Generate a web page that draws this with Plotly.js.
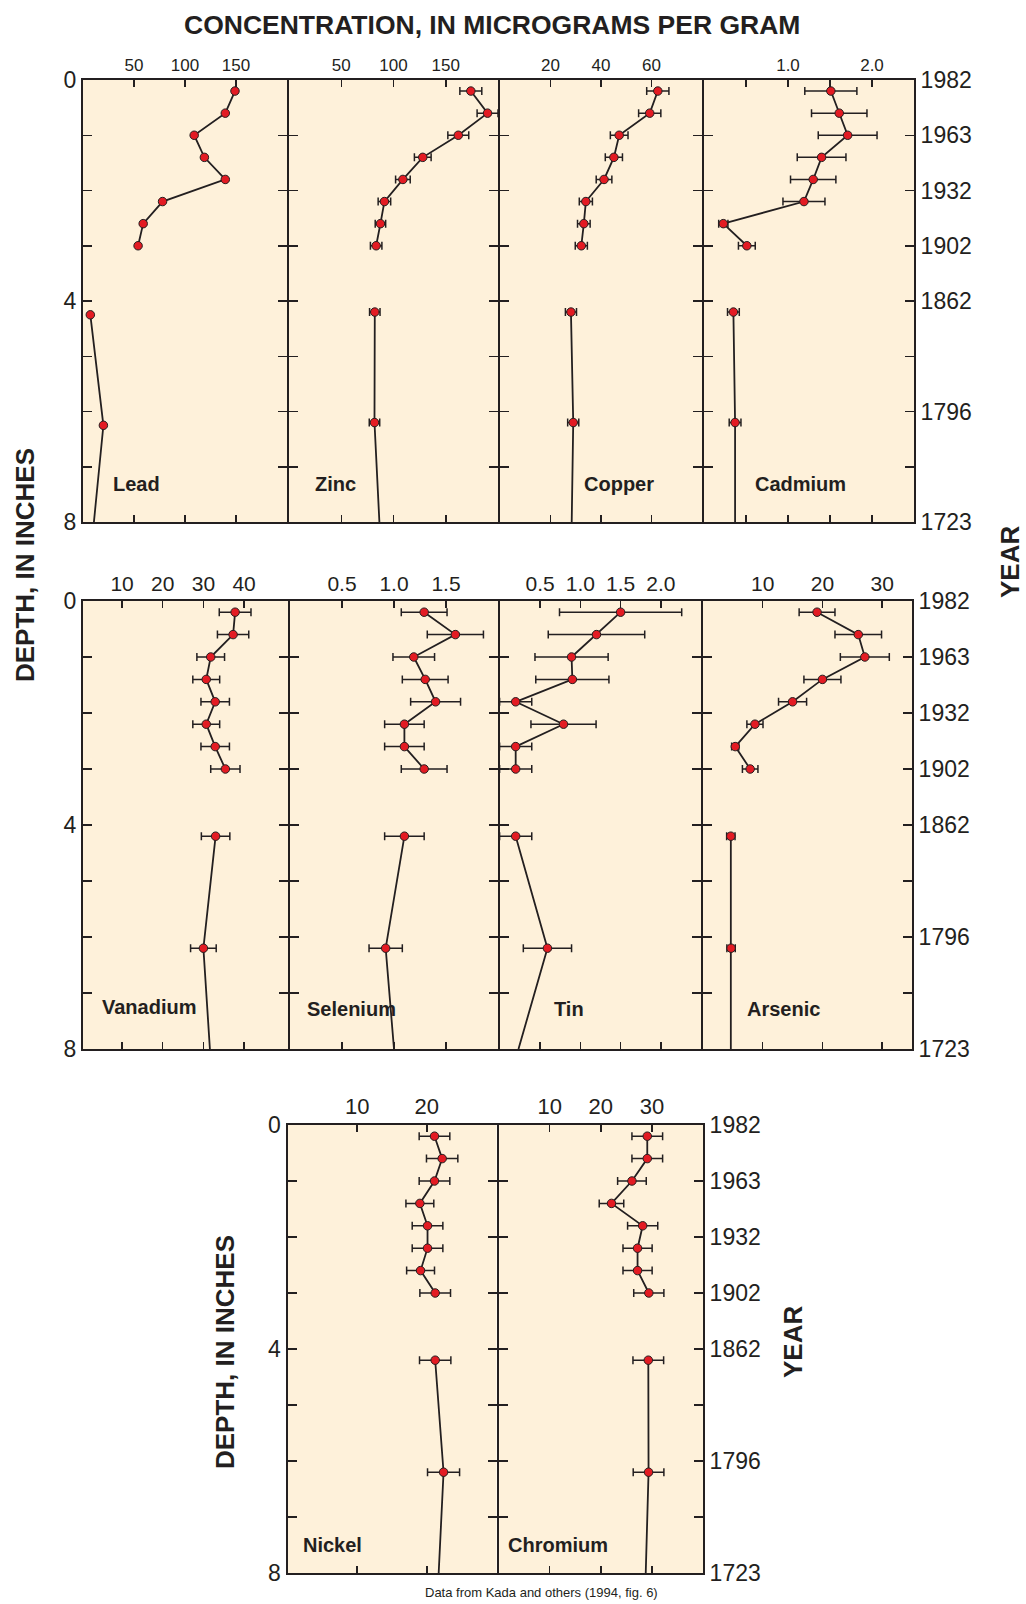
<!DOCTYPE html>
<html><head><meta charset="utf-8">
<script src="https://cdn.plot.ly/plotly-3.0.1.min.js"></script>
<style>html,body{margin:0;padding:0;background:#fff}#chart{width:1026px;height:1604px}</style>
</head><body><div id="chart"></div>
<script>
// ---------- DATA ----------
const sampleDepths = [0.2, 0.6, 1.0, 1.4, 1.8, 2.2, 2.6, 3.0];
const deepDepths = [4.2, 6.2];
const leadDeepDepths = [4.25, 6.25];
const bottomDepth = 8;

const depthTickVals = [0, 1, 2, 3, 4, 5, 6, 7, 8];
const depthTickText = ['0', '', '', '', '4', '', '', '', '8'];
const yearTickText = ['1982', '1963', '1932', '1902', '1862', '', '1796', '', '1723'];

const leadValues = [149, 139.5, 109, 119, 139.5, 78, 59, 54];
const leadDeep = [7.2, 20];
const leadBottom = 10.7;
const leadTicks = [50, 100, 150];
const leadTickText = ['50', '100', '150'];

const zincValues = [174, 190, 162, 128, 109, 91.3, 87.5, 83.4];
const zincErr = [10.5, 10, 10, 8, 7, 6, 5, 5.5];
const zincDeep = [82.1, 81.8];
const zincDeepErr = [5, 5];
const zincBottom = 86.5;
const zincTicks = [50, 100, 150];
const zincTickText = ['50', '100', '150'];

const copperValues = [62.5, 59.3, 47.2, 45.1, 41.2, 34, 33.2, 32.2];
const copperErr = [4.4, 4.4, 3.5, 3.4, 3.1, 2.6, 2.5, 2.4];
const copperDeep = [28.1, 29];
const copperDeepErr = [2.2, 2.2];
const copperBottom = 28.4;
const copperTicks = [20, 40, 60];
const copperTickText = ['20', '40', '60'];

const cadmiumValues = [1.51, 1.61, 1.71, 1.40, 1.30, 1.19, 0.23, 0.51];
const cadmiumErr = [0.31, 0.33, 0.35, 0.29, 0.27, 0.25, 0.055, 0.1];
const cadmiumDeep = [0.35, 0.37];
const cadmiumDeepErr = [0.07, 0.07];
const cadmiumBottom = 0.37;
const cadmiumTicks = [0.5, 1, 1.5, 2];
const cadmiumTickText = ['', '1.0', '', '2.0'];

const vanadiumValues = [37.8, 37.3, 31.8, 30.7, 32.9, 30.7, 32.9, 35.4];
const vanadiumErr = [3.9, 3.85, 3.4, 3.3, 3.5, 3.3, 3.5, 3.6];
const vanadiumDeep = [33, 30];
const vanadiumDeepErr = [3.5, 3.15];
const vanadiumBottom = 31.6;
const vanadiumTicks = [10, 20, 30, 40];
const vanadiumTickText = ['10', '20', '30', '40'];

const seleniumValues = [1.29, 1.59, 1.19, 1.30, 1.40, 1.10, 1.10, 1.29];
const seleniumErr = [0.22, 0.27, 0.2, 0.22, 0.24, 0.19, 0.19, 0.22];
const seleniumDeep = [1.10, 0.92];
const seleniumDeepErr = [0.19, 0.16];
const seleniumBottom = 1.0;
const seleniumTicks = [0.5, 1, 1.5];
const seleniumTickText = ['0.5', '1.0', '1.5'];

const tinValues = [1.50, 1.20, 0.89, 0.90, 0.195, 0.79, 0.195, 0.195];
const tinErr = [0.76, 0.6, 0.455, 0.455, 0.2, 0.405, 0.2, 0.2];
const tinDeep = [0.195, 0.59];
const tinDeepErr = [0.2, 0.3];
const tinBottom = 0.23;
const tinTicks = [0.5, 1, 1.5, 2];
const tinTickText = ['0.5', '1.0', '1.5', '2.0'];

const arsenicValues = [19.1, 26.0, 27.1, 20.0, 15.0, 8.7, 5.4, 7.9];
const arsenicErr = [3, 3.9, 4.1, 3.1, 2.35, 1.35, 0.6, 1.3];
const arsenicDeep = [4.66, 4.7];
const arsenicDeepErr = [0.7, 0.7];
const arsenicBottom = 4.66;
const arsenicTicks = [10, 20, 30];
const arsenicTickText = ['10', '20', '30'];

const nickelValues = [21.1, 22.2, 21.1, 19.0, 20.1, 20.1, 19.1, 21.2];
const nickelErr = [2.2, 2.25, 2.2, 2.0, 2.2, 2.2, 2.0, 2.2];
const nickelDeep = [21.2, 22.4];
const nickelDeepErr = [2.25, 2.3];
const nickelBottom = 21.7;
const nickelTicks = [10, 20];
const nickelTickText = ['10', '20'];

const chromiumValues = [29.1, 29.1, 26.1, 22.1, 28.2, 27.2, 27.2, 29.4];
const chromiumErr = [3.0, 3.0, 2.8, 2.4, 2.95, 2.85, 2.85, 2.95];
const chromiumDeep = [29.3, 29.35];
const chromiumDeepErr = [3.0, 3.0];
const chromiumBottom = 28.8;
const chromiumTicks = [10, 20, 30];
const chromiumTickText = ['10', '20', '30'];

// axis ranges
const leadRange = [0, 200], zincRange = [0, 200], copperRange = [0, 80], cadmiumRange = [0, 2.5];
const vanadiumRange = [0.4, 50.8], seleniumRange = [0, 2], tinRange = [0, 2.5], arsenicRange = [0, 35];
const nickelRange = [0, 30], chromiumRange = [0, 40];

// ---------- LAYOUT GEOMETRY ----------
const W = 1026, H = 1604;
const DARK = '#231F20', RED = '#E31B23', CREAM = '#FEF1DA';
const FONT = '"Liberation Sans", Arial, Helvetica, sans-serif';
const LW = 2;
const rows = [
  {top: 80, bottom: 522, edges: [83, 288, 499, 703, 914], tickSize: 17},
  {top: 601, bottom: 1049, edges: [83, 289, 499, 702, 912], tickSize: 21},
  {top: 1125, bottom: 1573, edges: [287.5, 497.5, 703], tickSize: 22}
];

const panels = [
  {label: 'Lead', v: leadValues, e: null, d: leadDeep, de: null, dy: leadDeepDepths, b: leadBottom, r: leadRange, tv: leadTicks, tt: leadTickText, row: 0, col: 0, lx: 111, ly: 484},
  {label: 'Zinc', v: zincValues, e: zincErr, d: zincDeep, de: zincDeepErr, dy: deepDepths, b: zincBottom, r: zincRange, tv: zincTicks, tt: zincTickText, row: 0, col: 1, lx: 313, ly: 484},
  {label: 'Copper', v: copperValues, e: copperErr, d: copperDeep, de: copperDeepErr, dy: deepDepths, b: copperBottom, r: copperRange, tv: copperTicks, tt: copperTickText, row: 0, col: 2, lx: 582, ly: 484},
  {label: 'Cadmium', v: cadmiumValues, e: cadmiumErr, d: cadmiumDeep, de: cadmiumDeepErr, dy: deepDepths, b: cadmiumBottom, r: cadmiumRange, tv: cadmiumTicks, tt: cadmiumTickText, row: 0, col: 3, lx: 753, ly: 484},
  {label: 'Vanadium', v: vanadiumValues, e: vanadiumErr, d: vanadiumDeep, de: vanadiumDeepErr, dy: deepDepths, b: vanadiumBottom, r: vanadiumRange, tv: vanadiumTicks, tt: vanadiumTickText, row: 1, col: 0, lx: 100, ly: 1007},
  {label: 'Selenium', v: seleniumValues, e: seleniumErr, d: seleniumDeep, de: seleniumDeepErr, dy: deepDepths, b: seleniumBottom, r: seleniumRange, tv: seleniumTicks, tt: seleniumTickText, row: 1, col: 1, lx: 305, ly: 1009},
  {label: 'Tin', v: tinValues, e: tinErr, d: tinDeep, de: tinDeepErr, dy: deepDepths, b: tinBottom, r: tinRange, tv: tinTicks, tt: tinTickText, row: 1, col: 2, lx: 552, ly: 1009},
  {label: 'Arsenic', v: arsenicValues, e: arsenicErr, d: arsenicDeep, de: arsenicDeepErr, dy: deepDepths, b: arsenicBottom, r: arsenicRange, tv: arsenicTicks, tt: arsenicTickText, row: 1, col: 3, lx: 745, ly: 1009},
  {label: 'Nickel', v: nickelValues, e: nickelErr, d: nickelDeep, de: nickelDeepErr, dy: deepDepths, b: nickelBottom, r: nickelRange, tv: nickelTicks, tt: nickelTickText, row: 2, col: 0, lx: 301, ly: 1545},
  {label: 'Chromium', v: chromiumValues, e: chromiumErr, d: chromiumDeep, de: chromiumDeepErr, dy: deepDepths, b: chromiumBottom, r: chromiumRange, tv: chromiumTicks, tt: chromiumTickText, row: 2, col: 1, lx: 506, ly: 1545}
];

const traces = [];
const layout = {
  width: W, height: H,
  margin: {l: 0, r: 0, t: 0, b: 0, autoexpand: false},
  paper_bgcolor: '#ffffff',
  plot_bgcolor: CREAM,
  showlegend: false,
  font: {family: FONT, color: DARK},
  annotations: []
};

panels.forEach((p, i) => {
  const n = i + 1;
  const xa = n === 1 ? 'x' : 'x' + n;
  const ya = n === 1 ? 'y' : 'y' + n;
  const g = rows[p.row];
  const nCols = g.edges.length - 1;
  const isFirst = p.col === 0, isLast = p.col === nCols - 1;
  // inner edges are pulled in by half a line on each side so the shared borders overlap exactly
  const x0 = g.edges[p.col] + (isFirst ? 0 : LW / 2);
  const x1 = g.edges[p.col + 1] - (isLast ? 0 : LW / 2);

  traces.push({
    type: 'scatter', mode: 'lines', xaxis: xa, yaxis: ya,
    x: p.v.concat([null], p.d, [p.b]),
    y: sampleDepths.concat([null], p.dy, [bottomDepth]),
    line: {color: DARK, width: 1.8}, connectgaps: false, hoverinfo: 'skip'
  });
  traces.push({
    type: 'scatter', mode: 'markers', xaxis: xa, yaxis: ya,
    x: p.v.concat(p.d),
    y: sampleDepths.concat(p.dy),
    cliponaxis: false,
    marker: {size: 8.5, color: RED, line: {color: DARK, width: 1}},
    error_x: p.e ? {type: 'data', array: p.e.concat(p.de), visible: true, color: DARK, thickness: 1.5, width: 4} : {visible: false}
  });

  const axKey = n === 1 ? '' : String(n);
  layout['xaxis' + axKey] = {
    domain: [x0 / W, x1 / W],
    range: p.r, anchor: ya, side: 'top',
    tickmode: 'array', tickvals: p.tv, ticktext: p.tt,
    ticks: 'inside', ticklen: 7, tickwidth: 1.5, tickcolor: DARK,
    showline: true, linewidth: LW, linecolor: DARK, mirror: 'ticks',
    showgrid: false, zeroline: false, fixedrange: true,
    tickfont: {size: g.tickSize, color: DARK, family: FONT}
  };
  layout['yaxis' + axKey] = {
    domain: [1 - g.bottom / H, 1 - g.top / H],
    range: [bottomDepth, 0], anchor: xa,
    side: isLast ? 'right' : 'left',
    tickmode: 'array', tickvals: depthTickVals,
    ticktext: isLast ? yearTickText : depthTickText,
    showticklabels: isFirst || isLast,
    ticks: 'inside', ticklen: 9, tickwidth: 1.5, tickcolor: DARK,
    showline: true, linewidth: LW, linecolor: DARK, mirror: 'ticks',
    showgrid: false, zeroline: false, fixedrange: true,
    tickfont: {size: 23, color: DARK, family: FONT}
  };

  layout.annotations.push({
    text: '<b>' + p.label + '</b>', xref: 'paper', yref: 'paper',
    x: p.lx / W, y: 1 - p.ly / H, xanchor: 'left', yanchor: 'middle',
    showarrow: false, font: {size: 20, color: DARK, family: FONT}
  });
});

function textAnn(text, px, py, size, angle, bold) {
  layout.annotations.push({
    text: bold ? '<b>' + text + '</b>' : text,
    xref: 'paper', yref: 'paper', x: px / W, y: 1 - py / H,
    xanchor: 'center', yanchor: 'middle', showarrow: false,
    textangle: angle || 0, font: {size: size, color: DARK, family: FONT}
  });
}
textAnn('CONCENTRATION, IN MICROGRAMS PER GRAM', 491.5, 25, 26.5, 0, true);
textAnn('DEPTH, IN INCHES', 25, 565, 26, -90, true);
textAnn('YEAR', 1010, 562, 26, -90, true);
textAnn('DEPTH, IN INCHES', 225, 1352, 26, -90, true);
textAnn('YEAR', 793, 1342, 26, -90, true);
textAnn('Data from Kada and others (1994, fig. 6)', 541, 1592, 13, 0, false);

Plotly.newPlot('chart', traces, layout, {staticPlot: true, displayModeBar: false});
</script></body></html>
